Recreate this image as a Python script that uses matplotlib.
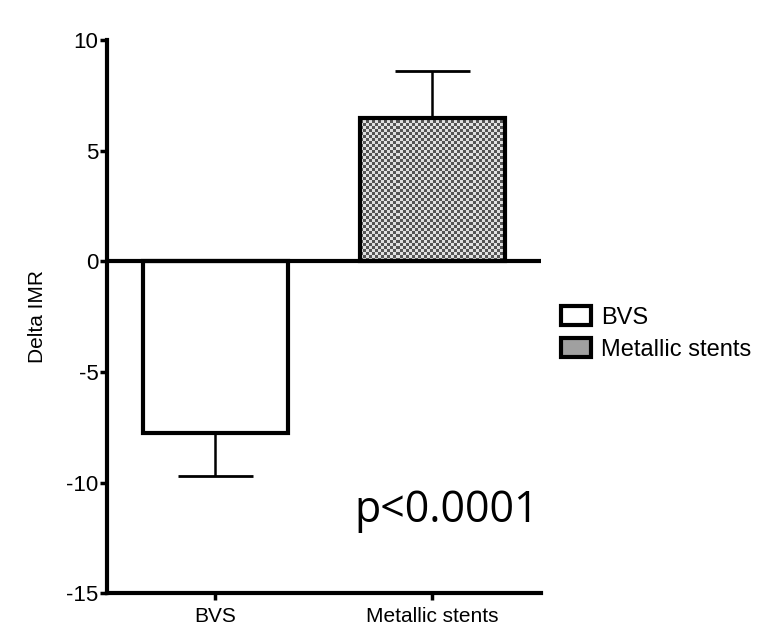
import numpy as np
import matplotlib.pyplot as plt
from matplotlib.patches import Patch
from matplotlib.colors import ListedColormap

plt.rcParams['font.family'] = ['Liberation Sans', 'DejaVu Sans']
plt.rcParams['axes.unicode_minus'] = False

# Data
groups = ['BVS', 'Metallic stents']
means = [-7.75, 6.5]
sems = [1.95, 2.1]
yticks = [-15, -10, -5, 0, 5, 10]

fig = plt.figure(figsize=(7.69, 6.27), dpi=100)
ax = fig.add_axes([0.139, 0.054, 0.5645, 0.882])

x = np.arange(len(groups))
bars = ax.bar(x, means, width=0.67, color=['white', 'none'],
              edgecolor='black', linewidth=3, zorder=3)

# checkered fill for the metallic bar
checker = np.indices((48, 48)).sum(axis=0) % 2
b = bars[1]
x0, w = b.get_x(), b.get_width()
h = b.get_height()
im = ax.imshow(checker, cmap=ListedColormap(['#e0e0e0', '#555555']),
               extent=(x0, x0 + w, 0, h), aspect='auto', interpolation='nearest', zorder=2)
im.set_clip_path(b)

# one-sided error bars
lower = [s if m < 0 else 0 for m, s in zip(means, sems)]
upper = [s if m > 0 else 0 for m, s in zip(means, sems)]
ax.errorbar(x, means, yerr=[lower, upper], fmt='none', ecolor='black',
            elinewidth=1.8, capsize=27, capthick=2, zorder=2)

ax.axhline(0, color='black', linewidth=3, zorder=4)

ax.set_xlim(-0.5, 1.5)
ax.set_ylim(-15, 10)
ax.set_yticks(yticks)
ax.set_xticks(x)
ax.set_xticklabels(groups, fontsize=15)
ax.tick_params(axis='y', labelsize=16, width=2.5, length=5, pad=1)
ax.tick_params(axis='x', width=2.5, length=5, pad=5)
for s in ['top', 'right']:
    ax.spines[s].set_visible(False)
for s in ['left', 'bottom']:
    ax.spines[s].set_linewidth(3)
ax.set_ylabel('Delta IMR', fontsize=15, labelpad=14)

ax.text(1.49, -11.8, 'p<0.0001', fontsize=31, ha='right', va='baseline',
        family=['Open Sans', 'DejaVu Sans'])

handles = [Patch(facecolor='white', edgecolor='black', linewidth=3, label='BVS'),
           Patch(facecolor='#a0a0a0', edgecolor='black', linewidth=3, label='Metallic stents')]
fig.legend(handles=handles, loc='center left', bbox_to_anchor=(0.702, 0.468),
           frameon=False, fontsize=17, handlelength=1.25, handleheight=0.85,
           handletextpad=0.45, labelspacing=0.4)

fig.savefig('out.png', dpi=100)
